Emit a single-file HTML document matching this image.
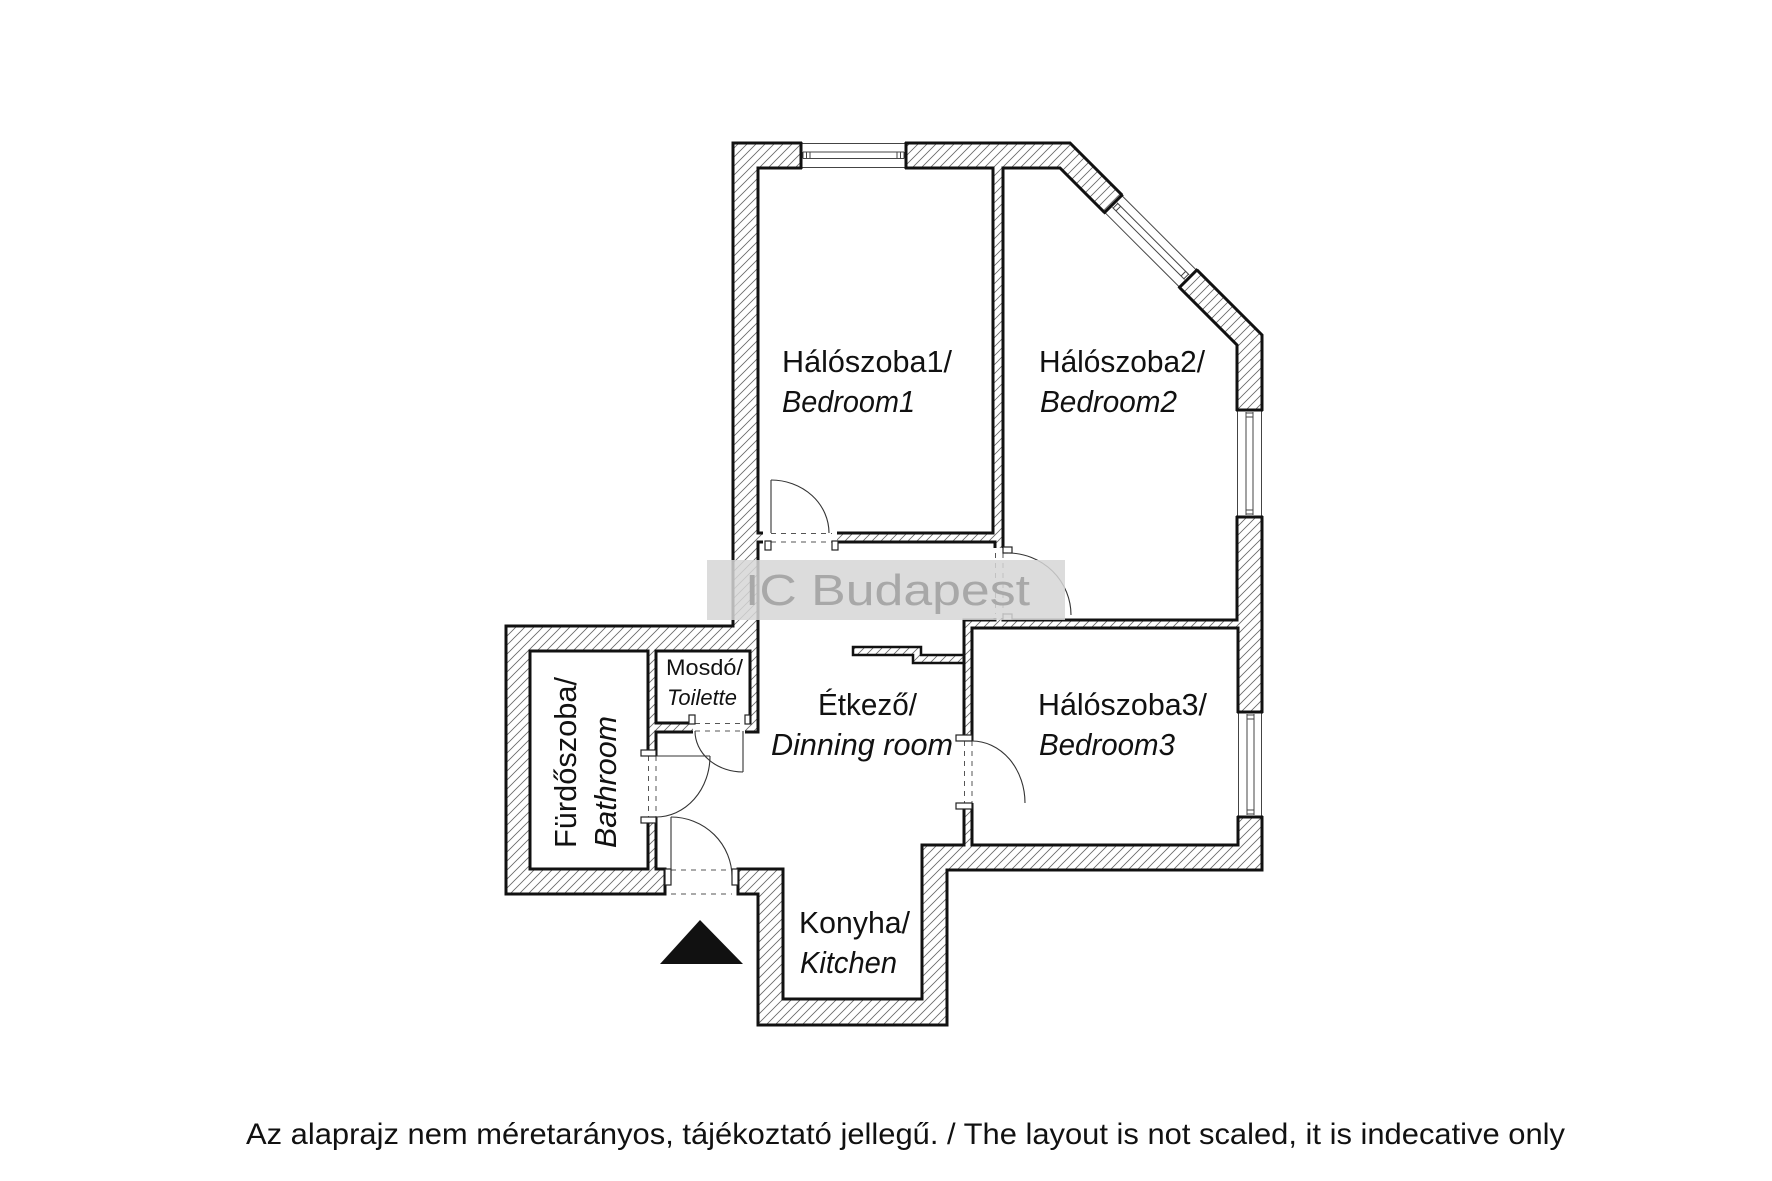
<!DOCTYPE html>
<html>
<head>
<meta charset="utf-8">
<style>
  html,body{margin:0;padding:0;background:#fff;}
  svg{display:block;}
  .lbl{font-family:"Liberation Sans",sans-serif;fill:#111;}
</style>
</head>
<body>
<svg xmlns="http://www.w3.org/2000/svg" width="1772" height="1181" viewBox="0 0 1772 1181">
  <defs>
    <pattern id="h" patternUnits="userSpaceOnUse" width="9" height="9">
      <path d="M0,9 L9,0 M-1,1 L1,-1 M8,10 L10,8" stroke="#666" stroke-width="0.8"/>
    </pattern>
  </defs>
  <rect width="1772" height="1181" fill="#fff"/>

  <!-- building footprint (hatched walls) -->
  <polygon points="733,143 1070,143 1262,335 1262,870 947,870 947,1025 758,1025 758,894 738,894 738,869 665,869 665,894 506,894 506,626 733,626"
           fill="url(#h)" stroke="#111" stroke-width="3"/>

  <!-- rooms -->
  <g fill="#fff" stroke="#111" stroke-width="3">
    <rect x="758" y="168" width="235" height="365"/>
    <polygon points="1003,168 1060,168 1237,345 1237,620 1003,620"/>
    <rect x="972" y="628" width="266" height="217"/>
    <rect x="530" y="651" width="118" height="218"/>
    <rect x="656" y="651" width="94" height="72"/>
    <polygon points="758,542 995,542 995,620 964,620 964,845 922,845 922,999 783,999 783,869 656,869 656,732 758,732"/>
  </g>
  <!-- closet stepped wall -->
  <polygon points="853,647 921,647 921,655 964,655 964,663 913,663 913,655 853,655" fill="url(#h)" stroke="#111" stroke-width="2.5"/>

  <!-- top window -->
  <rect x="802" y="141" width="103" height="29" fill="#fff"/>
  <g stroke="#444" stroke-width="1" fill="none">
    <line x1="801" y1="143.5" x2="906" y2="143.5"/>
    <line x1="801" y1="167.5" x2="906" y2="167.5"/>
    <line x1="803" y1="152" x2="904" y2="152"/>
    <line x1="803" y1="158.5" x2="904" y2="158.5"/>
    <line x1="803" y1="152" x2="803" y2="158.5"/>
    <line x1="806.5" y1="152" x2="806.5" y2="158.5"/>
    <line x1="810" y1="152" x2="810" y2="158.5"/>
    <line x1="897" y1="152" x2="897" y2="158.5"/>
    <line x1="900.5" y1="152" x2="900.5" y2="158.5"/>
    <line x1="904" y1="152" x2="904" y2="158.5"/>
  </g>
  <g stroke="#111" stroke-width="3">
    <line x1="801" y1="142" x2="801" y2="169"/>
    <line x1="906" y1="142" x2="906" y2="169"/>
  </g>

  <!-- diagonal window -->
  <g transform="translate(1122,195) rotate(45)">
    <rect x="0" y="-2.5" width="106" height="30" fill="#fff"/>
    <g stroke="#444" stroke-width="1" fill="none">
      <line x1="0" y1="0.5" x2="106" y2="0.5"/>
      <line x1="0" y1="24.5" x2="106" y2="24.5"/>
      <line x1="2" y1="9" x2="104" y2="9"/>
      <line x1="2" y1="15.5" x2="104" y2="15.5"/>
      <line x1="3" y1="9" x2="3" y2="15.5"/>
      <line x1="7" y1="9" x2="7" y2="15.5"/>
      <line x1="99" y1="9" x2="99" y2="15.5"/>
      <line x1="103" y1="9" x2="103" y2="15.5"/>
    </g>
    <g stroke="#111" stroke-width="3">
      <line x1="0" y1="-1" x2="0" y2="26"/>
      <line x1="106" y1="-1" x2="106" y2="26"/>
    </g>
  </g>

  <!-- right windows -->
  <g>
    <rect x="1235" y="411" width="29" height="105" fill="#fff"/>
    <g stroke="#444" stroke-width="1">
      <line x1="1237.5" y1="410" x2="1237.5" y2="517"/>
      <line x1="1261.5" y1="410" x2="1261.5" y2="517"/>
      <line x1="1246" y1="412" x2="1246" y2="515"/>
      <line x1="1253" y1="412" x2="1253" y2="515"/>
      <line x1="1246" y1="413" x2="1253" y2="413"/>
      <line x1="1246" y1="417" x2="1253" y2="417"/>
      <line x1="1246" y1="510" x2="1253" y2="510"/>
      <line x1="1246" y1="514" x2="1253" y2="514"/>
    </g>
    <g stroke="#111" stroke-width="3">
      <line x1="1236" y1="410" x2="1263" y2="410"/>
      <line x1="1236" y1="517" x2="1263" y2="517"/>
    </g>
  </g>
  <g>
    <rect x="1236" y="713" width="28" height="103" fill="#fff"/>
    <g stroke="#444" stroke-width="1">
      <line x1="1238.5" y1="712" x2="1238.5" y2="817"/>
      <line x1="1261.5" y1="712" x2="1261.5" y2="817"/>
      <line x1="1247" y1="714" x2="1247" y2="815"/>
      <line x1="1254" y1="714" x2="1254" y2="815"/>
      <line x1="1247" y1="715" x2="1254" y2="715"/>
      <line x1="1247" y1="719" x2="1254" y2="719"/>
      <line x1="1247" y1="810" x2="1254" y2="810"/>
      <line x1="1247" y1="814" x2="1254" y2="814"/>
    </g>
    <g stroke="#111" stroke-width="3">
      <line x1="1237" y1="712" x2="1263" y2="712"/>
      <line x1="1237" y1="817" x2="1263" y2="817"/>
    </g>
  </g>

  <!-- door openings (clear walls) -->
  <g fill="#fff">
    <rect x="763" y="531" width="74" height="13"/>
    <rect x="993" y="548" width="12" height="70"/>
    <rect x="962" y="741" width="12" height="62"/>
    <rect x="693" y="721.5" width="52" height="12"/>
    <rect x="646.5" y="756" width="11" height="61"/>
    <rect x="666.5" y="867" width="70" height="28"/>
  </g>

  <!-- dashed thresholds -->
  <g stroke="#555" stroke-width="1" stroke-dasharray="5,5" fill="none">
    <line x1="771" y1="533.5" x2="832" y2="533.5"/>
    <line x1="771" y1="542" x2="832" y2="542"/>
    <line x1="995.5" y1="553" x2="995.5" y2="614"/>
    <line x1="1003" y1="553" x2="1003" y2="614"/>
    <line x1="964.5" y1="741" x2="964.5" y2="803"/>
    <line x1="972" y1="741" x2="972" y2="803"/>
    <line x1="695" y1="723.5" x2="745" y2="723.5"/>
    <line x1="695" y1="731" x2="745" y2="731"/>
    <line x1="648.5" y1="756" x2="648.5" y2="817"/>
    <line x1="656" y1="756" x2="656" y2="817"/>
    <line x1="671" y1="870" x2="732" y2="870"/>
    <line x1="671" y1="894" x2="732" y2="894"/>
  </g>

  <!-- door jambs -->
  <g fill="#fff" stroke="#222" stroke-width="1.2">
    <rect x="765" y="541" width="6" height="9"/>
    <rect x="832" y="541" width="6" height="9"/>
    <rect x="1003" y="547" width="9" height="6"/>
    <rect x="1003" y="614" width="9" height="6"/>
    <rect x="956" y="735" width="16" height="6"/>
    <rect x="956" y="803" width="16" height="6"/>
    <rect x="689" y="715" width="6" height="9"/>
    <rect x="745" y="715" width="5" height="9"/>
    <rect x="641" y="750" width="15" height="6"/>
    <rect x="641" y="817" width="15" height="6"/>
    <rect x="665" y="869" width="6" height="16"/>
    <rect x="732" y="869" width="6" height="16"/>
  </g>

  <!-- door leaves and swings -->
  <g stroke="#333" stroke-width="1.1" fill="none">
    <line x1="771" y1="480" x2="771" y2="533"/>
    <path d="M771,480 A58,53 0 0 1 829,533"/>
    <path d="M1008,553 A63,62 0 0 1 1071,615"/>
    <path d="M972,741 A53,62 0 0 1 1025,803"/>
    <line x1="743" y1="731" x2="743" y2="772"/>
    <path d="M695,731 A48,41 0 0 0 743,772"/>
    <line x1="656" y1="756" x2="710" y2="756"/>
    <path d="M710,756 A54,61 0 0 1 656,817"/>
    <line x1="671" y1="817" x2="671" y2="870"/>
    <path d="M671,817 A61,60 0 0 1 732,877"/>
  </g>

  <!-- entrance triangle -->
  <polygon points="660,964 700,920 743,964" fill="#111"/>

  <!-- labels -->
  <text class="lbl" x="782" y="372" font-size="31" textLength="170" lengthAdjust="spacingAndGlyphs">Hálószoba1/</text>
  <text class="lbl" x="782" y="412" font-size="31" font-style="italic" textLength="133" lengthAdjust="spacingAndGlyphs">Bedroom1</text>
  <text class="lbl" x="1039" y="372" font-size="31" textLength="166" lengthAdjust="spacingAndGlyphs">Hálószoba2/</text>
  <text class="lbl" x="1040" y="412" font-size="31" font-style="italic" textLength="137" lengthAdjust="spacingAndGlyphs">Bedroom2</text>
  <text class="lbl" x="1038" y="715" font-size="31" textLength="169" lengthAdjust="spacingAndGlyphs">Hálószoba3/</text>
  <text class="lbl" x="1039" y="755" font-size="31" font-style="italic" textLength="136" lengthAdjust="spacingAndGlyphs">Bedroom3</text>
  <text class="lbl" x="818" y="715" font-size="31" textLength="99" lengthAdjust="spacingAndGlyphs">Étkező/</text>
  <text class="lbl" x="771" y="755" font-size="31" font-style="italic" textLength="182" lengthAdjust="spacingAndGlyphs">Dinning room</text>
  <text class="lbl" x="799" y="933" font-size="31" textLength="111" lengthAdjust="spacingAndGlyphs">Konyha/</text>
  <text class="lbl" x="800" y="973" font-size="31" font-style="italic" textLength="97" lengthAdjust="spacingAndGlyphs">Kitchen</text>
  <text class="lbl" x="666" y="675" font-size="22" textLength="77" lengthAdjust="spacingAndGlyphs">Mosdó/</text>
  <text class="lbl" x="667" y="705" font-size="22" font-style="italic" textLength="70" lengthAdjust="spacingAndGlyphs">Toilette</text>
  <text class="lbl" transform="translate(576,848) rotate(-90)" x="0" y="0" font-size="31" textLength="171" lengthAdjust="spacingAndGlyphs">Fürdőszoba/</text>
  <text class="lbl" transform="translate(616,848) rotate(-90)" x="0" y="0" font-size="31" font-style="italic" textLength="132" lengthAdjust="spacingAndGlyphs">Bathroom</text>

  <!-- watermark -->
  <rect x="707" y="560" width="358" height="60" fill="#d6d6d6" fill-opacity="0.85"/>
  <text x="745" y="605" font-family="Liberation Sans, sans-serif" font-size="44" fill="#a8a8a8" textLength="285" lengthAdjust="spacingAndGlyphs">IC Budapest</text>

  <!-- caption -->
  <text class="lbl" x="246" y="1144" font-size="30" textLength="1319" lengthAdjust="spacingAndGlyphs">Az alaprajz nem méretarányos, tájékoztató jellegű. / The layout is not scaled, it is indecative only</text>
</svg>
</body>
</html>
